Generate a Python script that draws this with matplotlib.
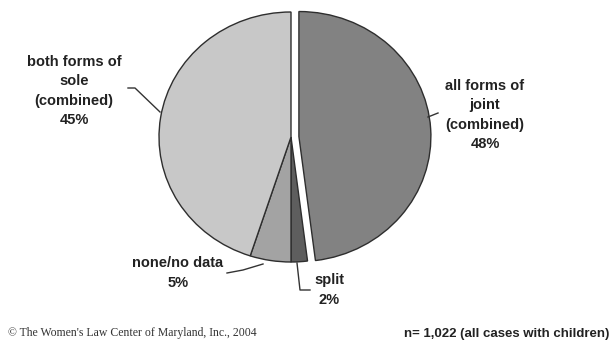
import matplotlib
matplotlib.use("Agg")
import matplotlib.pyplot as plt

# Custody outcomes, all cases with children (n = 1,022)
categories = ["all forms of\njoint\n(combined)", "split", "none/no data",
              "both forms of\nsole\n(combined)"]
shares = [48, 2, 5, 45]
colors = ["#828282", "#5e5e5e", "#a3a3a3", "#c8c8c8"]
explode = [0.06, 0, 0, 0]

W, H = 610, 343
fig = plt.figure(figsize=(W / 100, H / 100), dpi=100)

# pie axes placed in pixel terms (slightly wider than tall)
cx, cy, rx, ry = 291, 137, 132, 125
ax = fig.add_axes([(cx - rx) / W, (H - (cy + ry)) / H, 2 * rx / W, 2 * ry / H])
wedges, _ = ax.pie(shares, colors=colors, explode=explode, startangle=90,
                   counterclock=False, radius=1,
                   wedgeprops=dict(edgecolor="#2e2e2e", linewidth=1.0))
ax.set_xlim(-1, 1)
ax.set_ylim(-1, 1)
ax.set_aspect("auto")
ax.axis("off")

# overlay in pixel coordinates for labels, leaders and footer
ov = fig.add_axes([0, 0, 1, 1], zorder=3)
ov.set_xlim(0, W)
ov.set_ylim(H, 0)
ov.axis("off")

font = dict(family="Liberation Sans", weight="bold", fontsize=10.5,
            color="#222222", ha="center", va="center", linespacing=1.5)

labels = [f"{c}\n{v}%" for c, v in zip(categories, shares)]
ov.text(485, 115, labels[0], **font)
ov.text(329, 290, labels[1], **font)
ov.text(178, 273, labels[2], **font)
ov.text(74, 91, labels[3], **font)

lk = dict(color="#333333", lw=1.0)
ov.plot([428, 438], [117, 113], **lk)
ov.plot([297, 300, 310], [263, 290, 290], **lk)
ov.plot([227, 243, 263], [273, 270, 264], **lk)
ov.plot([128, 135, 160], [88, 88, 112], **lk)

ov.text(8, 333, "\u00a9 The Women's Law Center of Maryland, Inc., 2004",
        family="Liberation Serif", fontsize=8.5, color="#333333",
        ha="left", va="center")
ov.text(609, 334, "n= 1,022 (all cases with children)",
        family="Liberation Sans", weight="bold", fontsize=9.5,
        color="#222222", ha="right", va="center")

fig.savefig("out.png", dpi=100, facecolor="white")
